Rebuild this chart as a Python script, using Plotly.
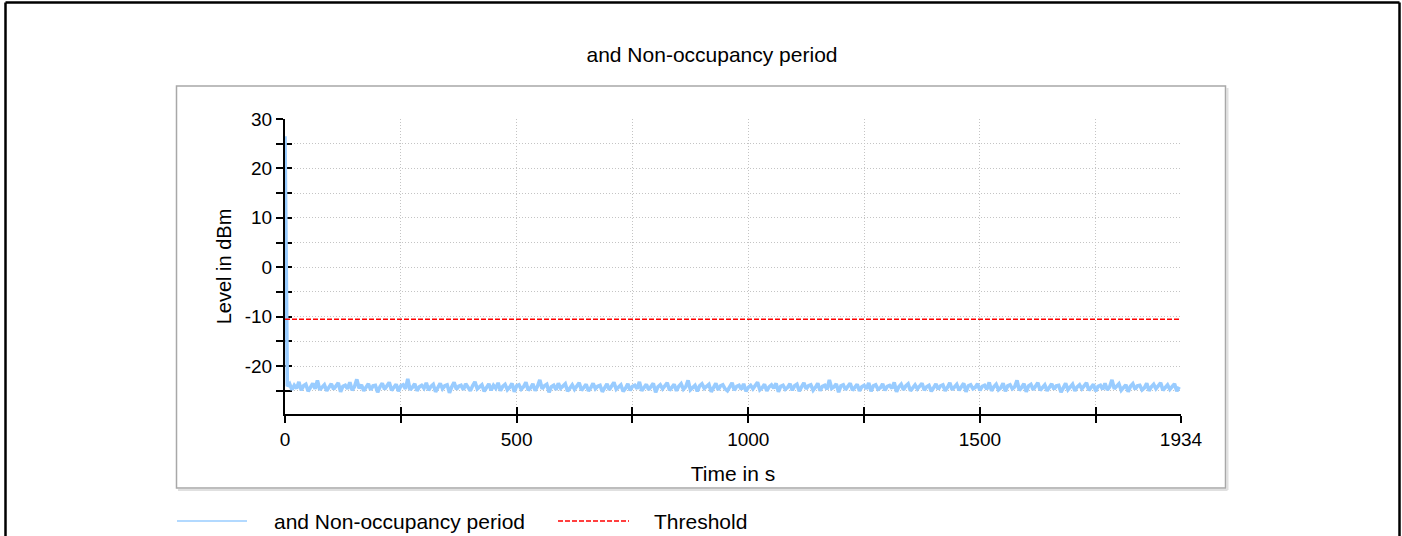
import plotly.graph_objects as go

# ---------------- data ----------------
title_text = "and Non-occupancy period"
series_name = "and Non-occupancy period"
threshold_name = "Threshold"
x_title = "Time in s"
y_title = "Level in dBm"

sample_interval_s = 5
x_end = 1934
x_tickvals = [0, 250, 500, 750, 1000, 1250, 1500, 1750, 1934]
x_ticktext = ["0", "", "500", "", "1000", "", "1500", "", "1934"]
y_tickvals = [-25, -20, -15, -10, -5, 0, 5, 10, 15, 20, 25, 30]
y_ticktext = ["", "-20", "", "-10", "", "0", "", "10", "", "20", "", "30"]

threshold_level = -10.5

levels = [26.5,
    -24.1, -23.6, -24.8, -23.9, -24.5, -23.2, -24.9, -24.0, -23.7, -25.1, -24.3, -23.5, -24.6, -22.9, -24.8, -24.2, -23.8, -25.0, -24.4, -23.6,
    -24.7, -24.0, -23.4, -25.2, -24.1, -23.9, -24.6, -23.3, -24.9, -24.2, -22.7, -24.5, -23.8, -25.0, -24.3, -23.6, -24.8, -24.0, -23.9, -25.3,
    -24.2, -23.5, -24.7, -24.1, -23.3, -24.9, -24.4, -23.7, -25.1, -24.0, -23.8, -24.6, -22.6, -24.8, -24.3, -23.6, -25.0, -24.2, -23.9, -24.5,
    -23.4, -24.9, -24.1, -23.7, -25.2, -24.3, -23.5, -24.6, -24.0, -23.8, -25.4, -24.2, -23.3, -24.7, -24.1, -23.9, -24.8, -23.6, -24.4, -25.0,
    -24.0, -23.2, -24.6, -24.3, -23.8, -25.1, -24.2, -23.6, -24.9, -23.9, -24.5, -23.4, -25.0, -24.1, -23.7, -24.8, -24.3, -23.5, -25.2, -24.0,
    -23.8, -24.7, -24.2, -23.3, -24.9, -24.4, -23.6, -25.0, -24.1, -22.8, -24.6, -24.0, -23.7, -25.3, -24.2, -23.9, -24.8, -23.5, -24.5, -24.1,
    -23.6, -25.1, -24.3, -23.8, -24.7, -24.0, -23.4, -24.9, -24.2, -23.7, -25.0, -24.4, -23.5, -24.6, -24.1, -23.9, -25.2, -24.3, -23.6, -24.8,
    -24.0, -23.3, -24.7, -24.2, -23.8, -25.1, -24.5, -23.6, -24.9, -24.1, -23.9, -24.6, -23.2, -25.0, -24.3, -23.7, -24.8, -24.0, -23.5, -25.3,
    -24.2, -23.8, -24.6, -24.0, -23.4, -24.9, -24.3, -23.7, -25.0, -24.1, -23.6, -24.7, -24.2, -22.9, -24.8, -24.4, -23.9, -25.1, -24.0, -23.6,
    -24.5, -24.1, -23.7, -25.2, -24.3, -23.5, -24.8, -24.0, -23.8, -24.6, -25.0, -24.2, -23.4, -24.9, -24.1, -23.9, -24.7, -23.6, -25.1, -24.3,
    -23.9, -24.6, -24.0, -23.3, -24.8, -24.4, -23.7, -25.0, -24.2, -23.8, -24.5, -23.5, -25.2, -24.1, -23.9, -24.7, -24.3, -23.6, -24.9, -24.0,
    -23.7, -25.1, -24.2, -23.4, -24.6, -24.0, -23.8, -24.9, -24.3, -23.5, -25.0, -24.1, -23.9, -24.7, -22.8, -24.5, -24.2, -23.6, -25.3, -24.0,
    -23.8, -24.8, -24.1, -23.5, -24.9, -24.3, -23.7, -25.0, -24.2, -23.9, -24.6, -23.4, -25.1, -24.0, -23.8, -24.7, -24.4, -23.6, -24.9, -24.1,
    -23.9, -24.5, -23.3, -25.2, -24.2, -23.7, -24.8, -24.0, -23.6, -25.0, -24.3, -23.8, -24.6, -24.1, -23.5, -24.9, -24.2, -23.9, -25.1, -24.4,
    -23.6, -24.7, -24.0, -23.8, -25.0, -24.3, -23.4, -24.8, -24.1, -23.7, -24.9, -24.2, -23.5, -25.2, -24.0, -23.8, -24.6, -24.3, -23.6, -24.9,
    -24.1, -23.9, -24.7, -23.3, -25.0, -24.2, -23.7, -24.8, -24.4, -23.5, -25.1, -24.0, -23.8, -24.6, -24.2, -22.9, -24.9, -24.3, -23.6, -25.2,
    -24.0, -23.7, -24.8, -24.1, -23.4, -24.9, -24.3, -23.8, -25.0, -24.2, -23.6, -24.7, -24.0, -23.9, -25.3, -24.4, -23.5, -24.8, -24.1, -23.7,
    -25.0, -24.2, -23.8, -24.6, -24.0, -23.4, -24.9, -24.3, -23.7, -25.1, -24.1, -23.9, -24.7, -23.5, -24.8, -24.2, -22.8, -24.6, -24.0, -23.6,
    -24.9, -24.3, -23.8, -25.2, -24.1, -23.6, -24.7, -24.0, -23.9, -24.8, -24.4, -23.5, -25.0, -24.2, -23.7, -24.6, -24.1, -23.4, -24.9, -24.3,
    -23.8, -24.7, -24.0, -23.6, -25.1, -24.2,
]
times = [i * sample_interval_s for i in range(len(levels))]

# ---------------- layout geometry (pixels) ----------------
W, H = 1402, 536
L, R, T, B = 285, 1181, 119, 414


def px(x):
    return (x - L) / (R - L)


def py(y):
    return (B - y) / (B - T)


FONT = "Liberation Sans, Arial, sans-serif"
BLUE = "#99CCFF"
RED = "#FF0000"
GRID = "#C4C4C4"

fig = go.Figure()
fig.add_trace(go.Scatter(x=times, y=levels, mode="lines", name=series_name,
                         line=dict(color=BLUE, width=3.6), showlegend=False))
fig.add_trace(go.Scatter(x=[0, x_end], y=[threshold_level, threshold_level], mode="lines",
                         name=threshold_name, line=dict(color=RED, width=1.5, dash="5px,2px"),
                         showlegend=False))
# empty helper trace so the overlaying tick axes are drawn
fig.add_trace(go.Scatter(x=[None], y=[None], xaxis="x2", yaxis="y2", showlegend=False,
                         hoverinfo="skip"))

yr = [-29.7, 30]
common_ax = dict(showline=False, zeroline=False, tickcolor="black", tickwidth=1.5, ticklen=7)

fig.update_layout(
    width=W, height=H,
    margin=dict(l=L, r=W - R, t=T, b=H - B, autoexpand=False),
    paper_bgcolor="white", plot_bgcolor="white",
    font=dict(family=FONT, color="black", size=19),
    showlegend=False,
    title=dict(text=title_text, x=712 / W, xref="container", xanchor="center",
               y=1 - 55 / H, yref="container", yanchor="middle",
               font=dict(family=FONT, size=21, color="black")),
    xaxis=dict(range=[0, x_end], tickmode="array", tickvals=x_tickvals, ticktext=x_ticktext,
               ticks="outside", ticklen=7, tickwidth=1.5, tickcolor="black",
               showline=True, linecolor="black", linewidth=2, zeroline=False,
               showgrid=True, gridcolor=GRID, griddash="1px,2px", gridwidth=1,
               layer="below traces", tickfont=dict(size=19), ticklabelstandoff=0,
               title=dict(text=x_title, font=dict(size=21), standoff=18)),
    yaxis=dict(range=yr, tickmode="array", tickvals=y_tickvals, ticktext=y_ticktext,
               ticks="outside", ticklen=7, tickwidth=1.5, tickcolor="black",
               showline=True, linecolor="black", linewidth=2, zeroline=False,
               showgrid=True, gridcolor=GRID, griddash="1px,2px", gridwidth=1,
               layer="below traces", tickfont=dict(size=19), ticklabelstandoff=0,
               title=dict(text=y_title, font=dict(size=20), standoff=8)),
    xaxis2=dict(range=[0, x_end], overlaying="x", anchor="y", tickmode="array",
                tickvals=x_tickvals, ticks="inside", showticklabels=False, showgrid=False,
                layer="below traces", **common_ax),
    yaxis2=dict(range=yr, overlaying="y", anchor="x", tickmode="array",
                tickvals=y_tickvals, ticks="inside", showticklabels=False, showgrid=False,
                layer="below traces", **common_ax),
)

shapes = []
# outer black frame (top, left, right)
shapes.append(dict(type="line", xref="paper", yref="paper", x0=px(5.5), x1=px(1399.5),
                   y0=py(2.5), y1=py(2.5), line=dict(color="black", width=2.5)))
shapes.append(dict(type="line", xref="paper", yref="paper", x0=px(5.5), x1=px(5.5),
                   y0=py(2.5), y1=py(540), line=dict(color="black", width=2.5)))
shapes.append(dict(type="line", xref="paper", yref="paper", x0=px(1399.5), x1=px(1399.5),
                   y0=py(2.5), y1=py(540), line=dict(color="black", width=2.5)))
# panel shadow + border
shapes.append(dict(type="line", xref="paper", yref="paper", x0=px(1227.5), x1=px(1227.5),
                   y0=py(88), y1=py(490), line=dict(color="#E0E0E0", width=2)))
shapes.append(dict(type="line", xref="paper", yref="paper", x0=px(178), x1=px(1227.5),
                   y0=py(490), y1=py(490), line=dict(color="#E0E0E0", width=2)))
shapes.append(dict(type="rect", xref="paper", yref="paper", x0=px(176.5), x1=px(1225.5),
                   y0=py(488), y1=py(86), line=dict(color="#A8A8A8", width=1.5)))
# legend samples
shapes.append(dict(type="line", xref="paper", yref="paper", x0=px(177), x1=px(247),
                   y0=py(521), y1=py(521), line=dict(color=BLUE, width=1.5)))
shapes.append(dict(type="line", xref="paper", yref="paper", x0=px(558), x1=px(629),
                   y0=py(521), y1=py(521), line=dict(color=RED, width=1.5, dash="5px,2px")))
fig.update_layout(shapes=shapes)

fig.add_annotation(text=series_name, xref="paper", yref="paper", x=px(272), y=py(521),
                   xanchor="left", yanchor="middle", showarrow=False,
                   font=dict(family=FONT, size=21, color="black"))
fig.add_annotation(text=threshold_name, xref="paper", yref="paper", x=px(652), y=py(521),
                   xanchor="left", yanchor="middle", showarrow=False,
                   font=dict(family=FONT, size=21, color="black"))

fig.write_html("out.html", config={"displayModeBar": False},
               post_script="document.body.style.margin='0';")
